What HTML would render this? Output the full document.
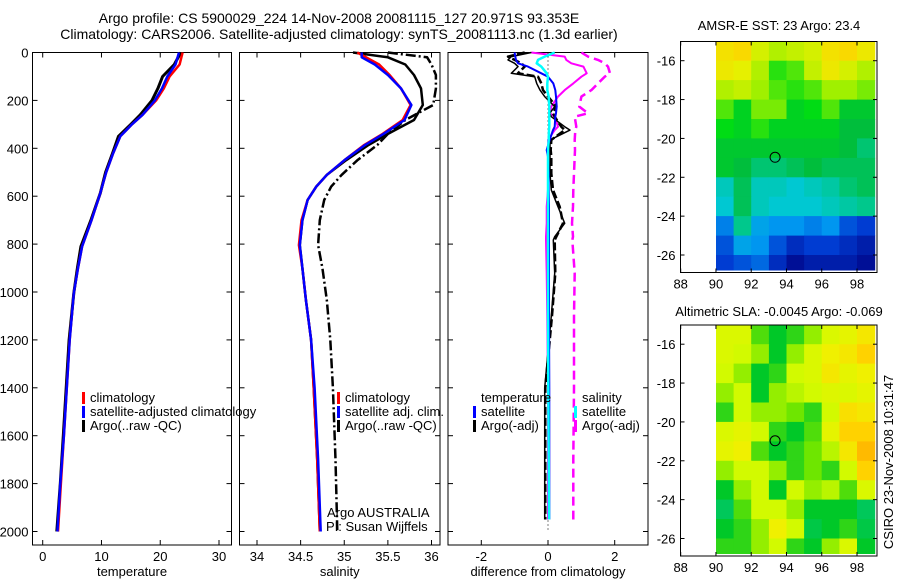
<!DOCTYPE html>
<html><head><meta charset="utf-8">
<style>
html,body{margin:0;padding:0;background:#fff;}
svg{display:block;font-family:"Liberation Sans",Arial,sans-serif;}
</style></head>
<body>
<svg id="fig" width="900" height="580" viewBox="0 0 900 580" xmlns="http://www.w3.org/2000/svg">
<rect x="0" y="0" width="900" height="580" fill="#fff"/>
<text x="339" y="23" font-size="14" text-anchor="middle">Argo profile: CS 5900029_224 14-Nov-2008 20081115_127 20.971S 93.353E</text>
<text x="339" y="39" font-size="14" text-anchor="middle">Climatology: CARS2006. Satellite-adjusted climatology: synTS_20081113.nc (1.3d earlier)</text>
<text x="779" y="30" font-size="13" text-anchor="middle">AMSR-E SST: 23 Argo: 23.4</text>
<text x="779" y="316" font-size="13" text-anchor="middle">Altimetric SLA: -0.0045 Argo: -0.069</text>
<text x="893" y="462" font-size="13" text-anchor="middle" transform="rotate(-90 893 462)">CSIRO 23-Nov-2008 10:31:47</text>
<g id="plots"></g>
</svg>
<script>
// ---------- data ----------
const depthT = [0,50,100,150,200,260,300,350,420,500,587,700,810,900,1005,1200,1400,1600,1800,2000];
const tempClim = [23.8,23.3,21.6,20.6,19.3,17.0,15.2,13.2,12.0,10.8,9.8,8.3,6.7,6.0,5.3,4.6,4.1,3.6,3.1,2.6];
const tempSat = [23.2,22.6,21.2,20.3,19.1,17.0,15.2,13.2,12.0,10.8,9.8,8.3,6.7,6.0,5.3,4.6,4.1,3.6,3.0,2.5];
const tempArgo = [23.5,22.4,20.4,19.6,18.6,16.6,15.0,12.9,11.9,10.7,9.8,8.2,6.5,5.9,5.3,4.5,4.0,3.5,3.0,2.4];

const depthS = [0,20,50,94,150,219,282,340,386,450,511,560,616,700,804,900,1033,1200,1400,1700,2000];
const salClim = [35.15,35.25,35.4,35.52,35.65,35.76,35.67,35.44,35.23,35.0,34.8,34.68,34.58,34.51,34.48,34.52,34.56,34.62,34.65,34.69,34.72];
const salSat = [35.2,35.2,35.35,35.5,35.65,35.77,35.69,35.45,35.24,35.0,34.8,34.68,34.58,34.52,34.49,34.52,34.56,34.62,34.66,34.7,34.73];
const salArgo = [35.1,35.5,35.7,35.8,35.88,35.9,35.8,35.5,35.28,35.02,34.8,34.68,34.58,34.52,34.49,34.52,34.56,34.62,34.65,34.69,34.72];
const salArgoRaw = [35.5,35.95,36.0,36.05,36.05,36.02,35.7,35.5,35.38,35.15,34.97,34.85,34.77,34.72,34.7,34.75,34.8,34.84,34.87,34.9,34.92];

const depthD = [0,17,31,45,59,87,101,129,157,184,226,254,268,310,324,365,407,435,505,574,644,713,769,783,922,1100,1400,1700,1950];
const diffTempSat = [-1.0,-0.98,-0.96,-0.9,-0.6,-0.2,0,0.16,0.22,0.24,0.26,0.24,0.22,0.2,0.15,0.05,-0.04,0.0,0.02,0.02,0.03,0.03,0.03,0.03,0.03,0.03,0.04,0.04,0.04];
const diffTempArgo = [-0.5,-1.1,-1.2,-1.0,-0.9,-1.1,-0.4,-0.34,-0.24,-0.1,0.2,0.05,0.1,0.5,0.66,0.06,0.06,0.06,0.06,0.1,0.3,0.5,0.2,0.16,0.2,0.1,-0.1,-0.1,-0.1];
const diffTempArgoRaw = [-0.7,-1.2,-1.0,-0.8,-0.7,-0.9,-0.3,-0.2,-0.15,0.0,0.25,0.15,0.2,0.4,0.5,0.1,0.08,0.1,0.1,0.15,0.35,0.45,0.25,0.2,0.22,0.12,-0.08,-0.08,-0.08];
const diffSalSat = [0.2,-0.1,-0.3,-0.34,-0.2,-0.04,0.0,-0.02,-0.02,0.02,0.04,0.04,0.04,0.04,0.03,0.02,0.0,0.0,0.0,0.0,0.0,0.0,0.0,0.0,0.0,0.0,0.01,0.02,0.03];
const diffSalArgo = [-0.5,0.5,0.55,0.7,1.06,1.16,1.0,0.76,0.5,0.3,0.1,0.06,0.2,0.3,0.2,0.0,0.02,0.0,0.0,0.0,-0.04,-0.04,-0.06,-0.06,-0.04,-0.02,0,0,0];
const diffSalArgoRaw = [1.0,1.2,1.5,1.7,1.8,1.86,1.7,1.5,1.3,1.0,0.94,1.2,0.8,0.85,0.82,0.8,0.81,0.8,0.78,0.76,0.75,0.72,0.75,0.73,0.8,0.78,0.78,0.76,0.76];

const depthTicks = [0,200,400,600,800,1000,1200,1400,1600,1800,2000];
const tempTicks = [0,10,20,30];
const salTicks = [34,34.5,35,35.5,36];
const diffTicks = [-2,0,2];
const lonTicks = [88,90,92,94,96,98];
const latTicks = [-16,-18,-20,-22,-24,-26];

const mapLons = [90,91,92,93,94,95,96,97,98];
const mapLats = [-15,-16,-17,-18,-19,-20,-21,-22,-23,-24,-25,-26];
const sstGrid = [
[23.7,23.8,23.4,23.2,23.3,23.4,23.7,23.8,23.6],
[23.6,23.5,23.2,22.8,22.9,23.3,23.6,23.4,23.2],
[23.2,23.3,23.1,22.9,22.8,22.9,23.1,23.1,23.0],
[22.9,22.6,23.0,23.0,22.6,22.7,22.9,22.5,22.5],
[22.7,22.6,22.8,22.6,22.6,22.6,22.6,22.4,22.4],
[22.5,22.5,22.5,22.5,22.5,22.5,22.5,22.4,22.2],
[22.5,22.4,22.2,22.2,22.3,22.4,22.3,22.3,22.3],
[21.9,22.3,21.9,21.9,21.8,21.9,22.0,22.2,22.3],
[21.8,22.3,21.9,21.8,21.8,21.8,21.9,22.0,22.1],
[21.3,22.1,21.5,21.4,21.4,21.3,21.4,21.1,21.0],
[21.1,21.5,21.4,21.1,20.9,21.0,21.0,20.9,20.8],
[21.0,21.1,21.2,20.9,20.7,20.8,20.8,20.8,20.7]];
const slaGrid = [
[0.02,0.02,-0.1,-0.15,-0.12,-0.05,0.02,0.05,0.1],
[0.02,0.0,-0.05,-0.15,-0.05,0.02,0.08,0.1,0.15],
[0.0,-0.05,-0.15,-0.12,0.0,0.02,0.1,0.05,0.08],
[-0.05,0.0,-0.15,-0.05,-0.02,0.0,0.03,0.02,0.05],
[-0.12,0.0,-0.05,-0.05,-0.08,-0.12,0.0,0.12,0.1],
[0.02,0.05,0.0,-0.12,-0.15,-0.1,0.05,0.15,0.15],
[0.05,0.08,-0.1,-0.15,-0.12,-0.08,-0.02,0.1,0.18],
[-0.05,0.0,0.0,-0.05,-0.12,-0.08,-0.12,0.0,0.15],
[-0.15,-0.05,0.0,-0.15,0.0,-0.05,-0.02,-0.1,0.02],
[-0.2,-0.1,0.0,0.0,-0.05,-0.15,-0.15,-0.15,-0.2],
[-0.15,-0.12,-0.05,0.08,0.0,-0.18,-0.15,-0.12,-0.18],
[-0.12,-0.12,-0.05,0.0,-0.12,-0.15,-0.05,0.02,-0.15]];
const argoLon = 93.353;
const argoLat = -20.971;

// ---------- drawing ----------
const NS = 'http://www.w3.org/2000/svg';
const root = document.getElementById('plots');
function mk(tag, attrs, parent){ const e=document.createElementNS(NS,tag); for(const k in attrs) e.setAttribute(k,attrs[k]); (parent||root).appendChild(e); return e; }
function lin(d0,d1,r0,r1){ return v => r0 + (v-d0)*(r1-r0)/(d1-d0); }

const TOP=52.5, BOT=545;
const yDepth = lin(0,2000,52.5,531.5);

function panel(name,x0,x1,xs,xTicks,xLabel,showY){
  const g = mk('g',{});
  
  
  mk('rect',{x:x0,y:TOP,width:x1-x0,height:BOT-TOP,fill:'none',stroke:'#000','stroke-width':1},g);
  xTicks.forEach(t=>{
    const x=xs(t);
    mk('line',{x1:x,x2:x,y1:BOT,y2:BOT-5,stroke:'#000'},g);
    mk('line',{x1:x,x2:x,y1:TOP,y2:TOP+5,stroke:'#000'},g);
    const tx = mk('text',{x:x,y:BOT+16,'font-size':13,'text-anchor':'middle'},g);
    tx.textContent = t;
    
    
  });
  depthTicks.forEach(d=>{
    const y=yDepth(d);
    mk('line',{x1:x0,x2:x0+5,y1:y,y2:y,stroke:'#000'},g);
    mk('line',{x1:x1,x2:x1-5,y1:y,y2:y,stroke:'#000'},g);
    if(showY){
      const ty = mk('text',{x:x0-4,y:y+5,'font-size':13,'text-anchor':'end'},g);
      ty.textContent = d;
      
      
    }
  });
  const xl = mk('text',{x:(x0+x1)/2,y:BOT+31,'font-size':13,'text-anchor':'middle'},g);
  xl.textContent = xLabel;
  
  
  return g;
}
function series(g,name,vals,depths,xs,color,w,dash){
  let d='';
  vals.forEach((v,i)=>{ d += (i?'L':'M') + xs(v).toFixed(1)+','+yDepth(depths[i]).toFixed(1); });
  const p = mk('path',{d:d,fill:'none',stroke:color,'stroke-width':w,'stroke-linejoin':'round'},g);
  if(dash) p.setAttribute('stroke-dasharray',dash);
  
  
}
function legend(g,x,y,items){
  items.forEach((it,i)=>{
    const yy=y+i*14;
    if(it.c) mk('rect',{x:x,y:yy-10,width:3,height:12,fill:it.c},g);
    const t = mk('text',{x:x+8,y:yy,'font-size':13},g);
    t.textContent = it.t;
    
    
  });
}

// Panel 1: temperature
const xT = lin(0,30,42.7,219);
const g1 = panel('temperature-panel',32.5,231.5,xT,tempTicks,'temperature',true);
series(g1,'temp-argo-line',tempArgo,depthT,xT,'#000',3);
series(g1,'temp-climatology-line',tempClim,depthT,xT,'#f00',2.5);
series(g1,'temp-satellite-line',tempSat,depthT,xT,'#00f',2.5);
legend(g1,82,402,[{c:'#f00',t:'climatology'},{c:'#00f',t:'satellite-adjusted climatology'},{c:'#000',t:'Argo(..raw -QC)'}]);

// Panel 2: salinity
const xS = lin(34,36,257,431.5);
const g2 = panel('salinity-panel',239.5,440,xS,salTicks,'salinity',false);
series(g2,'sal-argo-raw-line',salArgoRaw,depthS,xS,'#000',2.5,'10,3,2,3');
series(g2,'sal-argo-line',salArgo,depthS,xS,'#000',2.5);
series(g2,'sal-climatology-line',salClim,depthS,xS,'#f00',2.5);
series(g2,'sal-satellite-line',salSat,depthS,xS,'#00f',2.5);
legend(g2,337,402,[{c:'#f00',t:'climatology'},{c:'#00f',t:'satellite adj. clim.'},{c:'#000',t:'Argo(..raw -QC)'}]);
const a1=mk('text',{x:327,y:517,'font-size':13},g2); a1.textContent='Argo AUSTRALIA';


const a2=mk('text',{x:326,y:531,'font-size':13},g2); a2.textContent='PI: Susan Wijffels';



// Panel 3: difference
const xD = lin(-2,2,481.3,614.7);
const g3 = panel('difference-panel',448,648,xD,diffTicks,'difference from climatology',false);
mk('line',{x1:xD(0),x2:xD(0),y1:yDepth(0),y2:yDepth(2000),stroke:'#000','stroke-width':1,'stroke-dasharray':'1,3'},g3);
series(g3,'diff-sal-argo-raw-line',diffSalArgoRaw,depthD,xD,'#f0f',2.5,'9,5');
series(g3,'diff-sal-argo-line',diffSalArgo,depthD,xD,'#f0f',2);
series(g3,'diff-temp-argo-raw-line',diffTempArgoRaw,depthD,xD,'#000',2.5,'8,3');
series(g3,'diff-temp-argo-line',diffTempArgo,depthD,xD,'#000',1.5);
series(g3,'diff-temp-satellite-line',diffTempSat,depthD,xD,'#00f',2);
series(g3,'diff-sal-satellite-line',diffSalSat,depthD,xD,'#0ff',2.5);
legend(g3,473,402,[{c:null,t:'temperature'},{c:'#00f',t:'satellite'},{c:'#000',t:'Argo(-adj)'}]);
legend(g3,574,402,[{c:null,t:'salinity'},{c:'#0ff',t:'satellite'},{c:'#f0f',t:'Argo(-adj)'}]);

// ---------- maps ----------
function interpColor(stops,v){
  if(v<=stops[0][0]) return stops[0][1];
  for(let i=1;i<stops.length;i++){
    if(v<=stops[i][0]){
      const a=stops[i-1], b=stops[i], f=(v-a[0])/(b[0]-a[0]);
      return a[1].map((c,k)=>Math.round(c+(b[1][k]-c)*f));
    }
  }
  return stops[stops.length-1][1];
}
const sstStops = [[20.6,[0,0,130]],[21.0,[0,60,210]],[21.4,[0,150,240]],[21.8,[0,200,210]],[22.1,[0,200,140]],[22.4,[0,190,60]],[22.7,[0,220,20]],[23.1,[160,240,0]],[23.5,[230,240,0]],[23.9,[255,210,0]],[24.3,[255,170,0]]];
const slaStops = [[-0.25,[0,200,140]],[-0.15,[0,200,40]],[-0.08,[110,230,0]],[0.0,[210,250,0]],[0.08,[240,240,0]],[0.15,[255,210,0]],[0.2,[255,170,0]]];

function mapPanel(name,top,bottom,grid,stops){
  const g = mk('g',{});
  
  
  const x0=680.5, x1=877;
  const xs = lin(88,98,680.7,857);
  const ys = lin(-16,-26,top+19.2,top+19.2+194.3);
  const cid = name+'-clip';
  const cp = mk('clipPath',{id:cid},g);
  mk('rect',{x:x0,y:top,width:x1-x0,height:bottom-top-2},cp);
  const cells = mk('g',{'clip-path':'url(#'+cid+')'},g);
  grid.forEach((row,r)=>{
    row.forEach((v,c)=>{
      const col = interpColor(stops,v);
      const xa=xs(mapLons[c]), xb=xs(mapLons[c]+1);
      const ya=ys(mapLats[r]), yb=ys(mapLats[r]-1);
      const cell = mk('rect',{x:xa.toFixed(1),y:ya.toFixed(1),width:(xb-xa+0.6).toFixed(1),height:(yb-ya+0.6).toFixed(1),fill:'rgb('+col.join(',')+')'},cells);
      
      
    });
  });
  mk('rect',{x:x0,y:top,width:x1-x0,height:bottom-top,fill:'none',stroke:'#000'},g);
  lonTicks.forEach(t=>{
    const x=xs(t);
    mk('line',{x1:x,x2:x,y1:bottom,y2:bottom-4,stroke:'#000'},g);
    mk('line',{x1:x,x2:x,y1:top,y2:top+4,stroke:'#000'},g);
    const tx=mk('text',{x:x,y:bottom+16,'font-size':13,'text-anchor':'middle'},g);
    tx.textContent=t;
    
    
  });
  latTicks.forEach(t=>{
    const y=ys(t);
    mk('line',{x1:x0,x2:x0+4,y1:y,y2:y,stroke:'#000'},g);
    mk('line',{x1:x1,x2:x1-4,y1:y,y2:y,stroke:'#000'},g);
    const ty=mk('text',{x:x0-5,y:y+5,'font-size':13,'text-anchor':'end'},g);
    ty.textContent=t;
    
    
  });
  const m = mk('circle',{cx:xs(argoLon),cy:ys(argoLat),r:5,fill:'none',stroke:'#000','stroke-width':1},g);
  
  
}
mapPanel('sst-map',41.5,272.5,sstGrid,sstStops);
mapPanel('sla-map',325,556,slaGrid,slaStops);
</script>
</body></html>
